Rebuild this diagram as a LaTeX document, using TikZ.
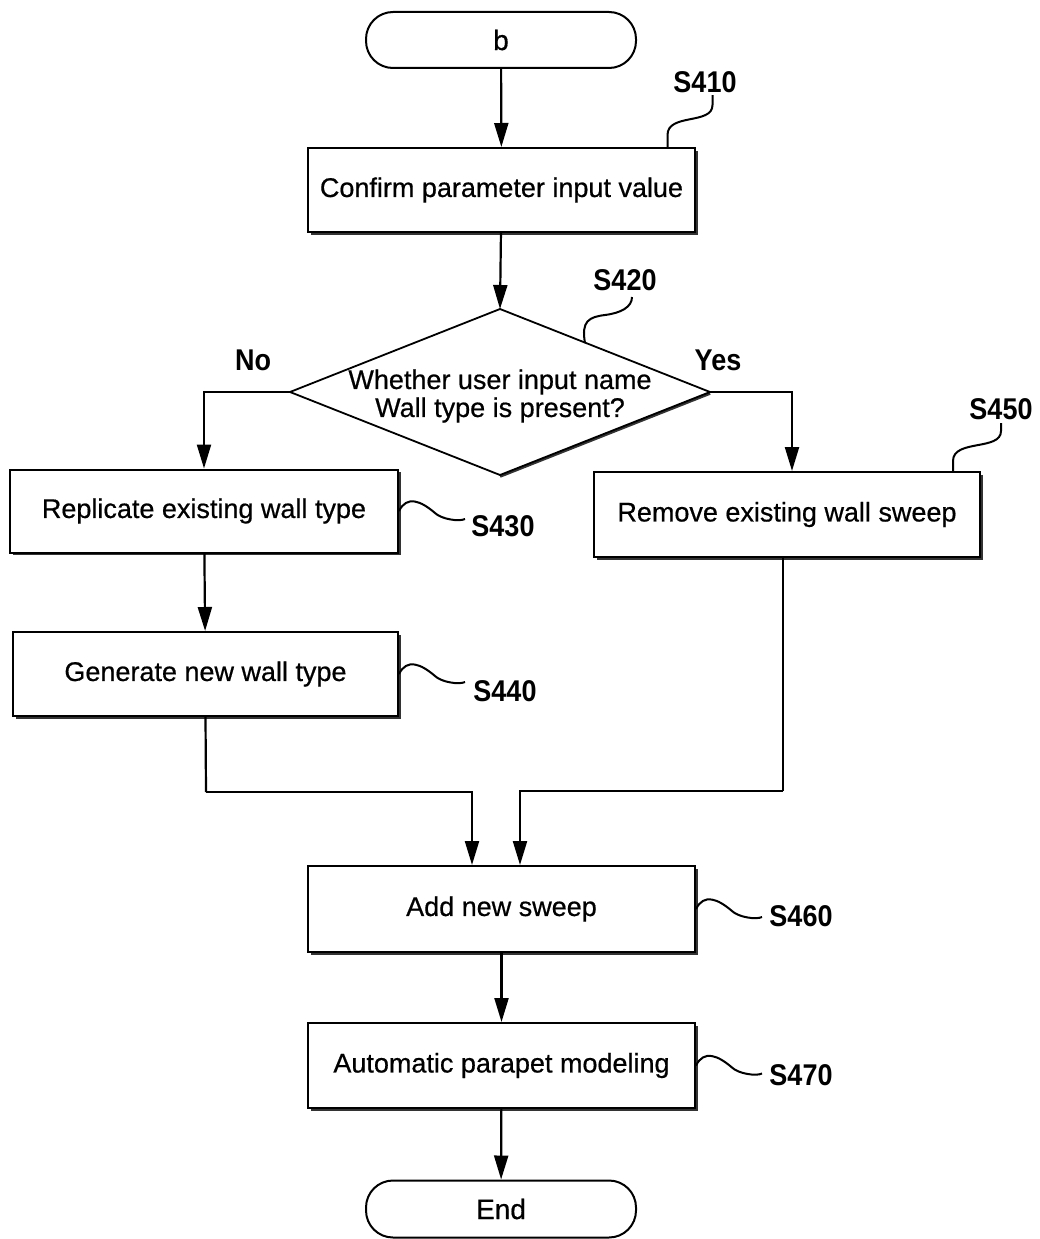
\documentclass[tikz,border=0pt]{standalone}
\usepackage{fontspec}
\setmainfont{Liberation Sans}
\newfontfamily\bodyfont[FakeBold=0.6]{Liberation Sans}
\newfontfamily\labfont[FakeStretch=0.9]{Liberation Sans}
\usetikzlibrary{arrows.meta,shadows}
\tikzset{
  box/.style={draw, line width=2pt, fill=white, minimum width=387pt, minimum height=84pt, inner sep=0pt,
    font=\bodyfont\fontsize{27}{32}\selectfont,
    drop shadow={shadow xshift=2.5pt, shadow yshift=-2.5pt, fill=black!80, opacity=1}},
  term/.style={draw, line width=2pt, rounded corners=27pt, minimum width=270pt, minimum height=56pt, inner sep=0pt,
    font=\bodyfont\fontsize{28}{32}\selectfont},
  flow/.style={line width=2.2pt, -{Triangle[length=24pt,width=14pt]}},
  plain/.style={line width=2.2pt},
  lab/.style={font=\labfont\bfseries\fontsize{30}{34}\selectfont, inner sep=0pt},
  wig/.style={line width=2pt},
  qtext/.style={align=center, inner sep=0pt, font=\bodyfont\fontsize{27}{28}\selectfont}
}
\begin{document}
\begin{tikzpicture}[x=1pt,y=-1pt]
\useasboundingbox (0,0) rectangle (1039,1239);
% nodes
\node[term] (b) at (501,40) {b};
\node[box] (s410) at (501.5,190) {Confirm parameter input value};
\coordinate (dT) at (500,309);
\coordinate (dL) at (290,392);
\coordinate (dR) at (710,392);
\coordinate (dB) at (500,475);
\draw[line width=3.2pt, black!80] ([yshift=-1.2pt]dB) -- ([yshift=-1.2pt]dR);
\draw[line width=1.8pt, fill=white] (dT) -- (dR) -- (dB) -- (dL) -- cycle;
\node[qtext] (q) at (500,396) {Whether user input name\\Wall type is present?};
\node[box, minimum width=388pt, minimum height=83pt] (s430) at (204,511) {Replicate existing wall type};
\node[box, minimum width=385pt] (s440) at (205.5,674) {Generate new wall type};
\node[box, minimum width=386pt, minimum height=85pt] (s450) at (787,514.5) {Remove existing wall sweep};
\node[box, minimum height=86pt] (s460) at (501.5,909) {Add new sweep};
\node[box, minimum height=85pt] (s470) at (501.5,1065.5) {Automatic parapet modeling};
\node[term, minimum height=57pt] (end) at (501,1209) {End};
% labels
\node[lab] (l410) at (705,82) {S410};
\node[lab] (l420) at (625,280) {S420};
\node[lab] (l430) at (503,526) {S430};
\node[lab] (l440) at (505,691) {S440};
\node[lab] (l450) at (1001,409) {S450};
\node[lab] (l460) at (801,916) {S460};
\node[lab] (l470) at (801,1075) {S470};
\node[lab] (no) at (253,360) {No};
\node[lab] (yes) at (718,360) {Yes};
% connectors
\draw[flow] (b) -- (s410);
\draw[flow] (s410) -- (dT);
\draw[flow] (dL) -| (s430.north);
\draw[flow] (dR) -| ([xshift=5pt]s450.north);
\draw[flow] (s430) -- (s440);
\coordinate (j1) at (206,792);
\coordinate (j2) at (783,791);
\draw[plain] (s440.south) -- (j1);
\draw[flow] (j1) -| ([xshift=-29.5pt]s460.north);
\draw[plain] ([xshift=-4pt]s450.south) -- (j2);
\draw[flow] (j2) -| ([xshift=18.5pt]s460.north);
\draw[flow] (s460) -- (s470);
\draw[flow] (s470) -- (end);
% leader squiggles
\draw[wig] ([xshift=166pt]s410.north) -- ++(0,-12) .. controls +(0,-22) and +(0,20) .. ++(45,-30) -- ++(0,-10);
\draw[wig] ([xshift=166pt]s450.north) -- ++(0,-10) .. controls +(0,-22) and +(0,20) .. ++(48,-30) -- ++(0,-8);
\coordinate (w420) at (585,343);
\draw[wig] (w420) .. controls +(-4,-22) and +(-16,2) .. ++(20,-28) .. controls +(16,-2) and +(0,10) .. ++(27,-18);
\draw[wig] (s430.east) .. controls +(8,-16) and +(-14,-12) .. ++(36,2) .. controls +(6,6) and +(-6,3) .. ++(30,6);
\draw[wig] (s440.east) .. controls +(8,-16) and +(-14,-12) .. ++(36,2) .. controls +(6,6) and +(-6,3) .. ++(30,6);
\draw[wig] (s460.east) .. controls +(8,-16) and +(-14,-12) .. ++(36,2) .. controls +(6,6) and +(-6,3) .. ++(30,6);
\draw[wig] (s470.east) .. controls +(8,-16) and +(-14,-12) .. ++(36,2) .. controls +(6,6) and +(-6,3) .. ++(30,6);
\end{tikzpicture}
\end{document}
